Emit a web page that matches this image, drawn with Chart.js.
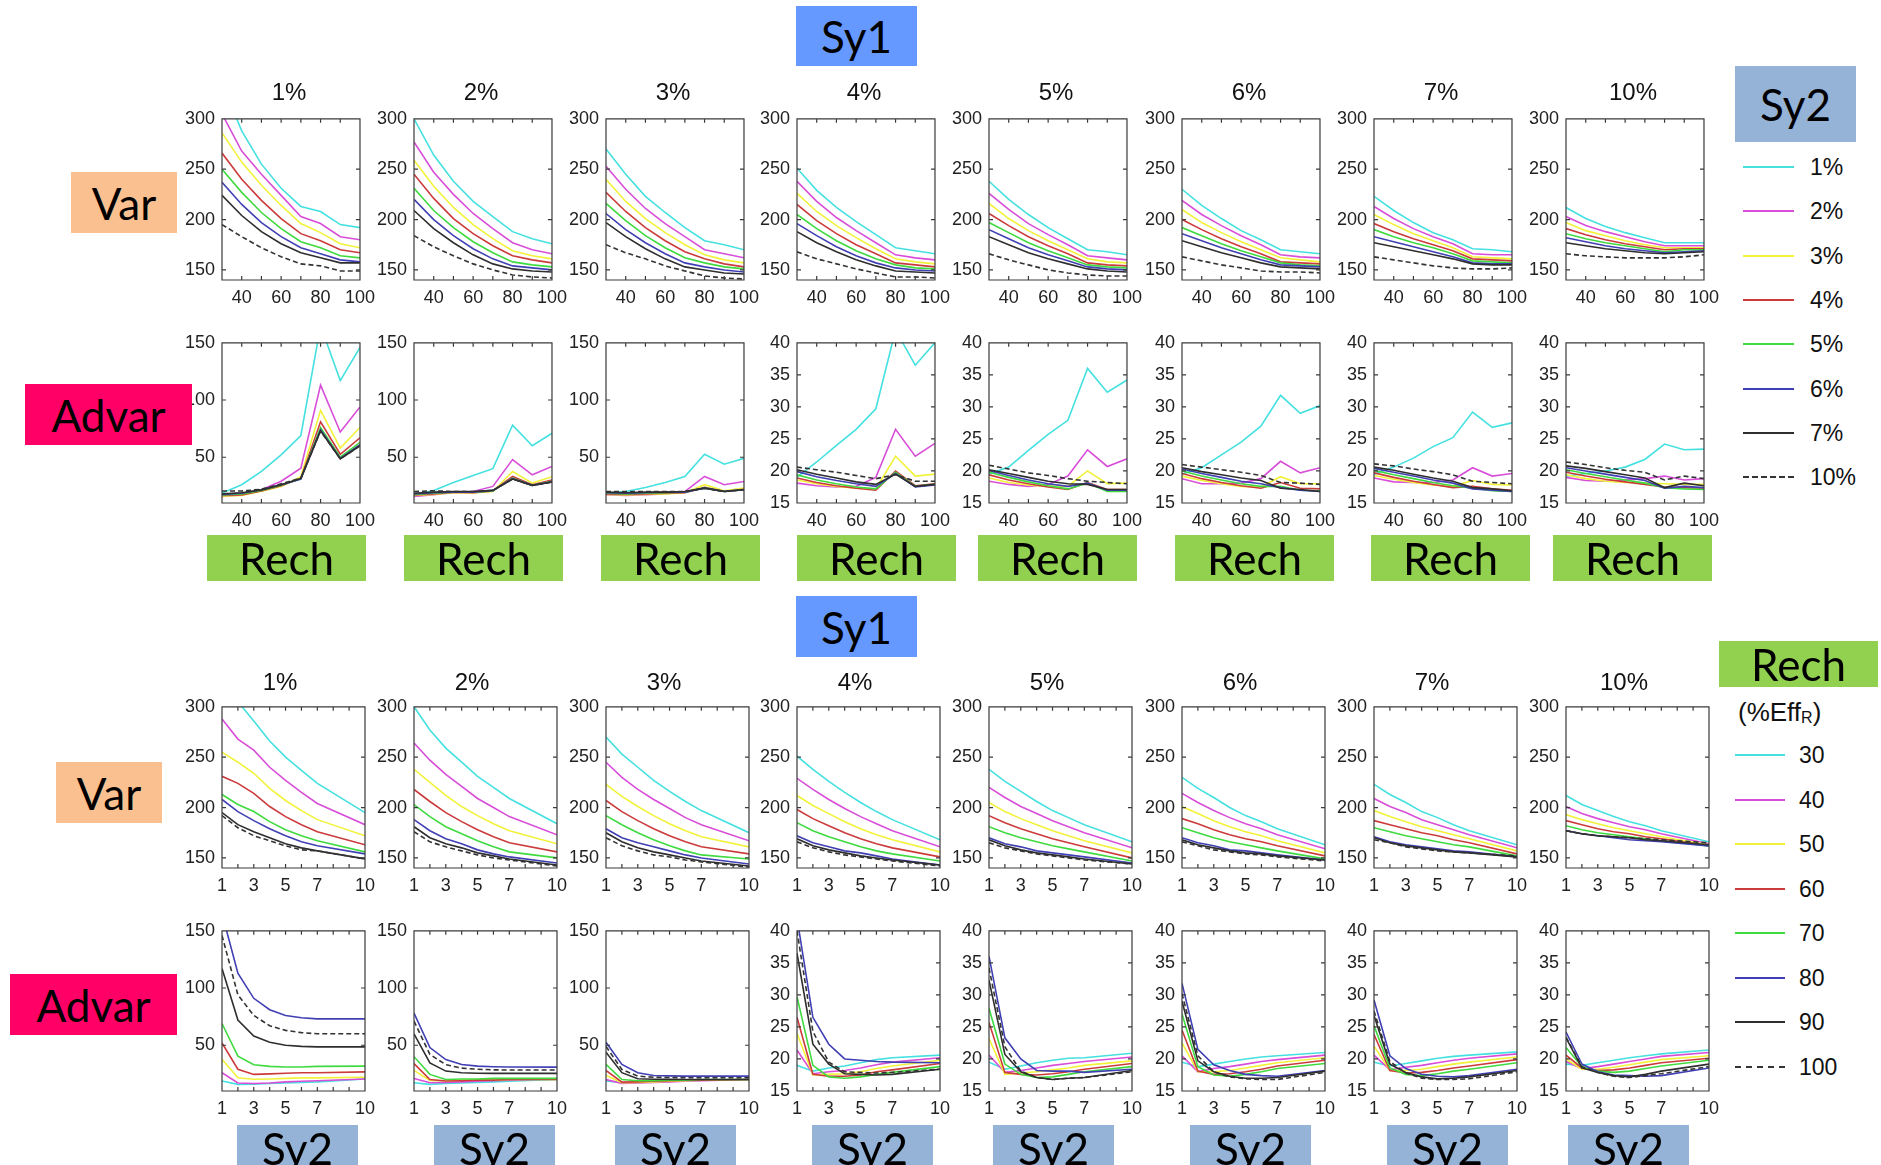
<!DOCTYPE html>
<html>
<head>
<meta charset="utf-8">
<title>Var / Advar by Sy1, Sy2 and Rech</title>
<script src="https://cdn.jsdelivr.net/npm/chart.js"></script>
<style>
  html, body { margin: 0; padding: 0; background: #fff; }
  body { position: relative; width: 1881px; height: 1165px; overflow: hidden; font-family: "Liberation Sans", Arial, sans-serif; color: #111; }
  canvas { position: absolute; z-index: 1; }
  .tag { position: absolute; z-index: 2; display: flex; align-items: center; justify-content: center; font-family: Lato, "Open Sans", sans-serif; font-size: 44px; color: #000; }
  .ttl { position: absolute; z-index: 2; font-size: 24px; width: 80px; margin-left: -40px; text-align: center; line-height: 24px; }
  .leg-line { position: absolute; height: 0; border-top-width: 2px; }
  .leg-txt { position: absolute; font-size: 23px; line-height: 26px; }
  .effr { position: absolute; font-size: 26px; line-height: 30px; }
  .effr sub { font-size: 16px; vertical-align: -2px; }
</style>
</head>
<body>
<script>
// axes values
const sy1Labels = ["1%", "2%", "3%", "4%", "5%", "6%", "7%", "10%"];
const sy2Labels = ["1%", "2%", "3%", "4%", "5%", "6%", "7%", "10%"];
const sy2Values = [1, 2, 3, 4, 5, 6, 7, 10];
const rechValues = [30, 40, 50, 60, 70, 80, 90, 100];
const rechTicks = [30, 40, 50, 60, 70, 80, 90, 100];
const rechTickLabels = [40, 60, 80, 100];
const sy2Ticks = [1, 2, 3, 4, 5, 6, 7, 8, 9, 10];
const sy2TickLabels = [1, 3, 5, 7, 10];
const varTicks = [150, 200, 250, 300];
const advarBigTicks = [50, 100, 150];
const advarSmallTicks = [15, 20, 25, 30, 35, 40];

const seriesColors = ["#45e0e0", "#d84ed8", "#f2f23a", "#cc3b3b", "#3fda3f", "#4040b4", "#2e2e2e", "#333333"];

// Var tables: one per Sy1; rows = Sy2 (1..7, 10 %), columns = Rech 30..100
const var1 = [
  [335, 288, 255, 231, 213, 208, 195, 192],
  [305, 268, 245, 224, 203, 196, 183, 180],
  [286, 257, 234, 214, 196, 187, 176, 172],
  [266, 240, 219, 201, 186, 179, 170, 167],
  [250, 227, 207, 191, 178, 172, 164, 162],
  [237, 215, 197, 183, 172, 166, 160, 158],
  [224, 204, 188, 176, 167, 162, 157, 157],
  [195, 183, 172, 163, 156, 154, 149, 149]
];
const var2 = [
  [300, 264, 238, 218, 203, 188, 181, 176],
  [277, 247, 225, 206, 191, 177, 170, 166],
  [259, 233, 212, 195, 181, 169, 164, 161],
  [245, 221, 201, 186, 174, 164, 160, 157],
  [231, 209, 192, 178, 167, 158, 155, 153],
  [220, 200, 184, 171, 161, 154, 152, 150],
  [209, 191, 177, 165, 156, 151, 149, 148],
  [184, 173, 164, 156, 150, 145, 143, 142]
];
const var3 = [
  [270, 245, 223, 207, 192, 179, 175, 170],
  [253, 230, 211, 196, 183, 170, 166, 162],
  [240, 218, 201, 187, 175, 165, 160, 157],
  [227, 208, 192, 179, 168, 161, 156, 153],
  [216, 199, 184, 172, 162, 157, 153, 151],
  [206, 190, 177, 166, 157, 153, 150, 148],
  [197, 183, 171, 161, 153, 150, 147, 146],
  [175, 167, 161, 154, 149, 144, 142, 141]
];
const var4 = [
  [251, 229, 212, 198, 185, 172, 169, 166],
  [238, 218, 202, 189, 177, 165, 162, 160],
  [226, 208, 194, 182, 171, 161, 158, 156],
  [215, 199, 186, 175, 166, 157, 155, 153],
  [205, 191, 179, 169, 161, 155, 152, 151],
  [196, 184, 173, 164, 157, 152, 150, 149],
  [188, 177, 168, 160, 154, 149, 148, 147],
  [168, 161, 156, 151, 147, 143, 143, 142]
];
const var5 = [
  [238, 220, 205, 192, 181, 170, 168, 165],
  [226, 210, 196, 185, 175, 164, 162, 160],
  [216, 201, 189, 179, 170, 161, 158, 157],
  [206, 194, 183, 174, 166, 157, 155, 154],
  [197, 187, 177, 169, 162, 155, 153, 152],
  [190, 181, 172, 165, 159, 153, 151, 150],
  [183, 175, 167, 161, 156, 151, 149, 148],
  [166, 160, 155, 150, 147, 145, 144, 144]
];
const var6 = [
  [230, 214, 201, 189, 180, 170, 168, 166],
  [219, 205, 194, 184, 175, 165, 163, 162],
  [210, 197, 187, 178, 170, 162, 160, 158],
  [200, 190, 181, 173, 166, 158, 157, 156],
  [192, 184, 176, 169, 163, 157, 155, 154],
  [186, 179, 172, 166, 160, 155, 154, 153],
  [179, 173, 167, 162, 157, 153, 152, 151],
  [163, 159, 155, 152, 149, 148, 148, 147]
];
const var7 = [
  [223, 209, 197, 187, 180, 171, 170, 168],
  [213, 201, 191, 183, 176, 166, 165, 165],
  [205, 195, 186, 179, 172, 163, 162, 161],
  [196, 188, 181, 175, 169, 161, 160, 159],
  [190, 183, 177, 172, 166, 159, 158, 157],
  [183, 178, 173, 168, 163, 157, 156, 156],
  [177, 173, 169, 165, 161, 156, 155, 155],
  [163, 160, 157, 154, 152, 151, 151, 152]
];
const var10 = [
  [212, 201, 193, 187, 182, 177, 177, 177],
  [203, 194, 188, 183, 178, 174, 174, 174],
  [197, 189, 184, 179, 175, 172, 172, 172],
  [191, 185, 180, 176, 173, 170, 171, 171],
  [186, 181, 177, 174, 171, 168, 170, 170],
  [182, 178, 174, 171, 169, 167, 168, 169],
  [177, 174, 171, 169, 167, 166, 167, 168],
  [166, 164, 163, 162, 162, 162, 163, 165]
];

// Advar tables: same layout
const advar1 = [
  [18.7, 26, 37.7, 52, 69, 165, 117, 146],
  [15.8, 17, 21.6, 29, 40.4, 113, 72, 94],
  [16, 16.5, 20.3, 24.5, 33, 91, 58, 76],
  [16.5, 17, 20.5, 25, 31.5, 81, 52.6, 67],
  [17, 18, 21, 25.5, 31, 76, 50, 63],
  [17.5, 18.5, 21.5, 26, 31, 74, 49, 61],
  [18, 19, 21.5, 26, 31.5, 73, 48.6, 60],
  [20.5, 20.5, 22, 26.7, 31.7, 73, 48.6, 60]
];
const advar2 = [
  [17.2, 21, 28, 34, 40, 78, 60, 71],
  [15.8, 17.2, 19.3, 20.1, 24.5, 48, 34.6, 42],
  [16.5, 17.5, 19, 18.7, 20.1, 37.5, 27.4, 33],
  [17, 18, 19.5, 19, 20.5, 33.2, 26, 30],
  [17.5, 18.5, 19.5, 19.5, 20.5, 31.7, 25.5, 29],
  [18, 19, 19.5, 19.5, 21, 31.2, 25.4, 28.5],
  [18.5, 19.5, 20, 20, 21, 31, 25.4, 28.3],
  [20, 20.7, 20, 20, 21, 30.9, 25.4, 28.3]
];
const advar3 = [
  [18.7, 20, 23.6, 28, 33.2, 52.6, 43.9, 49],
  [17.2, 16.7, 17.2, 17.8, 20, 33.2, 26, 28.8],
  [17.5, 17, 17.5, 18, 19, 26, 20.7, 23],
  [18, 17.5, 18, 18.5, 19, 23.6, 20.3, 22],
  [18.5, 18, 18.5, 19, 19.5, 23.2, 20.2, 21.8],
  [19, 18.5, 19, 19.5, 19.5, 23, 20, 21.6],
  [19.5, 19, 19.5, 19.5, 20, 23, 20, 21.6],
  [20, 20, 20, 20, 20, 23, 20, 21.6]
];
const advar4 = [
  [19, 21.4, 24, 26.5, 29.7, 42, 36.5, 40],
  [18.1, 17.7, 17.5, 17.6, 19, 26.5, 22.3, 24.3],
  [18.6, 18, 17.6, 17.3, 17.2, 22.3, 19.2, 19.5],
  [18.9, 18.2, 17.7, 17.3, 17, 20, 17.7, 18],
  [19.4, 18.6, 18, 17.5, 17.2, 19.8, 17.6, 17.9],
  [19.9, 19.1, 18.5, 18, 17.6, 19.6, 17.5, 17.8],
  [20.2, 19.5, 18.9, 18.3, 17.9, 19.5, 17.6, 17.9],
  [20.6, 20.2, 19.8, 19.3, 18.8, 19.4, 18.4, 18.4]
];
const advar5 = [
  [19.5, 20.6, 23.2, 25.7, 27.9, 36, 32.3, 34.2],
  [18.4, 17.9, 17.6, 17.9, 19.2, 23.3, 20.7, 21.9],
  [18.9, 18.2, 17.8, 17.6, 17.6, 20, 18, 18.1],
  [19.4, 18.6, 18, 17.5, 17.1, 18.2, 17.1, 17.1],
  [19.8, 19, 18.3, 17.7, 17.2, 18.1, 16.8, 16.8],
  [20.1, 19.3, 18.6, 18, 17.6, 18.1, 17, 17],
  [20.2, 19.6, 19, 18.4, 18, 17.9, 17.1, 17.1],
  [20.9, 20.3, 19.7, 19.3, 18.8, 18.4, 18.2, 18]
];
const advar6 = [
  [19.5, 20.5, 22.5, 24.5, 27, 31.8, 29, 30.2],
  [18.8, 18, 18, 18.1, 18.8, 21.5, 19.7, 20.5],
  [19.2, 18.5, 18, 17.6, 17.5, 19.1, 18, 18],
  [19.6, 18.8, 18.2, 17.7, 17.3, 18.2, 17.3, 17.2],
  [20, 19.2, 18.6, 18, 17.6, 17.6, 17, 16.9],
  [20.3, 19.6, 19, 18.4, 18, 17.4, 17, 16.8],
  [20.5, 19.9, 19.4, 18.9, 18.5, 17.3, 17.1, 16.8],
  [21, 20.6, 20.2, 19.8, 19.3, 18.2, 18.1, 17.9]
];
const advar7 = [
  [19.5, 20.6, 22, 23.8, 25.2, 29.2, 26.8, 27.5],
  [18.9, 18.3, 18.2, 18.2, 18.6, 20.5, 19.2, 19.6],
  [19.3, 18.7, 18.2, 17.8, 17.6, 18.5, 17.9, 17.8],
  [19.7, 19, 18.4, 17.9, 17.4, 17.6, 17.2, 17],
  [20.1, 19.4, 18.8, 18.2, 17.7, 17.3, 16.9, 16.8],
  [20.4, 19.8, 19.2, 18.6, 18.1, 17.2, 17, 16.8],
  [20.6, 20.1, 19.5, 18.9, 18.4, 17.4, 17.2, 16.9],
  [21.1, 20.8, 20.3, 19.9, 19.4, 18.4, 18.2, 18]
];
const advar10 = [
  [19.2, 19.6, 20, 20.6, 21.8, 24.2, 23.3, 23.4],
  [19, 18.5, 18.4, 18.6, 18.8, 19.2, 18.6, 18.8],
  [19.4, 18.8, 18.4, 18.2, 18.1, 18, 17.9, 17.9],
  [19.8, 19.2, 18.7, 18.3, 17.9, 17.5, 17.4, 17.3],
  [20.2, 19.6, 19.1, 18.6, 18.1, 17.4, 17.2, 17.1],
  [20.5, 20, 19.5, 19, 18.5, 17.3, 17.6, 17.4],
  [20.8, 20.4, 19.9, 19.4, 18.9, 17.4, 18.1, 17.7],
  [21.4, 21, 20.5, 20.1, 19.8, 18.6, 19.2, 18.8]
];

const varTables = [var1, var2, var3, var4, var5, var6, var7, var10];
const advarTables = [advar1, advar2, advar3, advar4, advar5, advar6, advar7, advar10];

// page layout
const panelLefts = [222, 414, 606, 797, 989, 1182, 1374, 1566];

function tag(text, left, top, w, h, bg) {
  const d = document.createElement("div");
  d.className = "tag";
  Object.assign(d.style, { left: left + "px", top: top + "px", width: w + "px", height: h + "px", background: bg });
  d.textContent = text;
  document.body.appendChild(d);
}

function title(text, cx, cy) {
  const d = document.createElement("div");
  d.className = "ttl";
  d.style.left = cx + "px";
  d.style.top = (cy - 12) + "px";
  d.textContent = text;
  document.body.appendChild(d);
}

function legendEntry(text, lineLeft, lineW, textLeft, cy, k) {
  const l = document.createElement("div");
  l.className = "leg-line";
  Object.assign(l.style, { left: lineLeft + "px", top: (cy - 1) + "px", width: lineW + "px",
    borderTopStyle: k === 7 ? "dashed" : "solid", borderTopColor: seriesColors[k] });
  document.body.appendChild(l);
  const t = document.createElement("div");
  t.className = "leg-txt";
  t.style.left = textLeft + "px";
  t.style.top = (cy - 13) + "px";
  t.textContent = text;
  document.body.appendChild(t);
}

// box + inward ticks like the original axes
const framePlugin = {
  id: "frame",
  afterDatasetsDraw(chart) {
    const { ctx, chartArea: a } = chart;
    const xs = chart.scales.x, ys = chart.scales.y;
    ctx.save();
    ctx.strokeStyle = "#3a3a3a";
    ctx.lineWidth = 1.2;
    ctx.beginPath();
    ctx.rect(a.left, a.top, a.right - a.left, a.bottom - a.top);
    xs.ticks.forEach(t => {
      const p = xs.getPixelForValue(t.value);
      ctx.moveTo(p, a.bottom); ctx.lineTo(p, a.bottom - 4);
      ctx.moveTo(p, a.top); ctx.lineTo(p, a.top + 4);
    });
    ys.ticks.forEach(t => {
      const p = ys.getPixelForValue(t.value);
      ctx.moveTo(a.left, p); ctx.lineTo(a.left + 4, p);
      ctx.moveTo(a.right, p); ctx.lineTo(a.right - 4, p);
    });
    ctx.stroke();
    ctx.restore();
  }
};

function drawPanel(left, top, w, h, xs, series, xAxis, yAxis) {
  const padL = 50, padR = 22, padT = 12, padB = 34;
  const cv = document.createElement("canvas");
  cv.width = w + padL + padR;
  cv.height = h + padT + padB;
  document.body.appendChild(cv);
  const tickFont = { family: "Liberation Sans", size: 18 };

  const chart = new Chart(cv, {
    type: "line",
    data: {
      datasets: series.map((vals, k) => ({
        data: xs.map((x, i) => ({ x: x, y: vals[i] })),
        borderColor: seriesColors[k],
        borderWidth: 1.6,
        borderDash: k === 7 ? [5, 3] : [],
        pointRadius: 0,
        tension: 0,
        fill: false,
        order: 7 - k
      }))
    },
    options: {
      responsive: false,
      maintainAspectRatio: false,
      animation: false,
      events: [],
      layout: { padding: { left: 4, right: padR, top: padT, bottom: 2 } },
      plugins: { legend: { display: false }, tooltip: { enabled: false } },
      scales: {
        x: {
          type: "linear", min: xAxis.min, max: xAxis.max,
          grid: { display: false, drawTicks: false }, border: { display: false },
          afterBuildTicks: s => { s.ticks = xAxis.ticks.map(v => ({ value: v })); },
          afterFit: s => { s.height = padB - 2; },
          ticks: {
            autoSkip: false, maxRotation: 0, padding: 7, color: "#222", font: tickFont,
            callback: v => xAxis.labels.includes(v) ? String(v) : ""
          }
        },
        y: {
          type: "linear", min: yAxis.min, max: yAxis.max,
          grid: { display: false, drawTicks: false }, border: { display: false },
          afterBuildTicks: s => { s.ticks = yAxis.ticks.map(v => ({ value: v })); },
          afterFit: s => { s.width = padL - 4; },
          ticks: { autoSkip: false, padding: 7, color: "#222", font: tickFont }
        }
      }
    },
    plugins: [framePlugin]
  });
  // make the plot box exactly w x h, then put it in place
  for (let pass = 0; pass < 2; pass++) {
    const a = chart.chartArea;
    const dw = Math.round(w - (a.right - a.left)), dh = Math.round(h - (a.bottom - a.top));
    if (!dw && !dh) break;
    chart.resize(chart.width + dw, chart.height + dh);
  }
  const a = chart.chartArea;
  cv.style.left = (left - a.left) + "px";
  cv.style.top = (top - a.top) + "px";
}

const rechAxis = { min: 30, max: 100, ticks: rechTicks, labels: rechTickLabels };
const sy2Axis = { min: 1, max: 10, ticks: sy2Ticks, labels: sy2TickLabels };
const varAxis = { min: 140, max: 300, ticks: varTicks };
const advarBigAxis = { min: 10, max: 150, ticks: advarBigTicks };
const advarSmallAxis = { min: 15, max: 40, ticks: advarSmallTicks };

// column j of a table = one Rech level across Sy2
function byRech(table) {
  return rechValues.map((_, j) => table.map(row => row[j]));
}

sy1Labels.forEach((lab, i) => {
  const L = panelLefts[i];
  const advAxis = i < 3 ? advarBigAxis : advarSmallAxis;
  // upper block: x = Rech, one line per Sy2
  title(lab, L + 67, 92);
  drawPanel(L, 119, 138, 161, rechValues, varTables[i], rechAxis, varAxis);
  drawPanel(L, 343, 138, 160, rechValues, advarTables[i], rechAxis, advAxis);
  // lower block: x = Sy2, one line per Rech
  title(lab, L + 58, 682);
  drawPanel(L, 707, 143, 161, sy2Values, byRech(varTables[i]), sy2Axis, varAxis);
  drawPanel(L, 931, 143, 160, sy2Values, byRech(advarTables[i]), sy2Axis, advAxis);
});

// labels and boxes
tag("Sy1", 796, 6, 121, 60, "#6699ff");
tag("Sy1", 796, 596, 121, 61, "#6699ff");
tag("Var", 71, 172, 106, 61, "#fac090");
tag("Var", 56, 762, 106, 61, "#fac090");
tag("Advar", 25, 384, 167, 61, "#ff0066");
tag("Advar", 10, 974, 167, 61, "#ff0066");
[207, 404, 601, 797, 978, 1175, 1371, 1553].forEach(x => tag("Rech", x, 535, 159, 46, "#92d050"));
[237, 434, 615, 812, 993, 1190, 1387, 1568].forEach(x => tag("Sy2", x, 1125, 121, 46, "#95b3d7"));
tag("Sy2", 1735, 66, 121, 76, "#95b3d7");
tag("Rech", 1719, 641, 159, 46, "#92d050");

const eff = document.createElement("div");
eff.className = "effr";
eff.style.left = "1738px";
eff.style.top = "697px";
eff.innerHTML = "(%Eff<sub>R</sub>)";
document.body.appendChild(eff);

sy2Labels.forEach((lab, k) => legendEntry(lab, 1743, 51, 1810, 167 + 44.3 * k, k));
rechValues.forEach((r, k) => legendEntry(String(r), 1735, 50, 1799, 755 + 44.5 * k, k));
</script>
</body>
</html>
